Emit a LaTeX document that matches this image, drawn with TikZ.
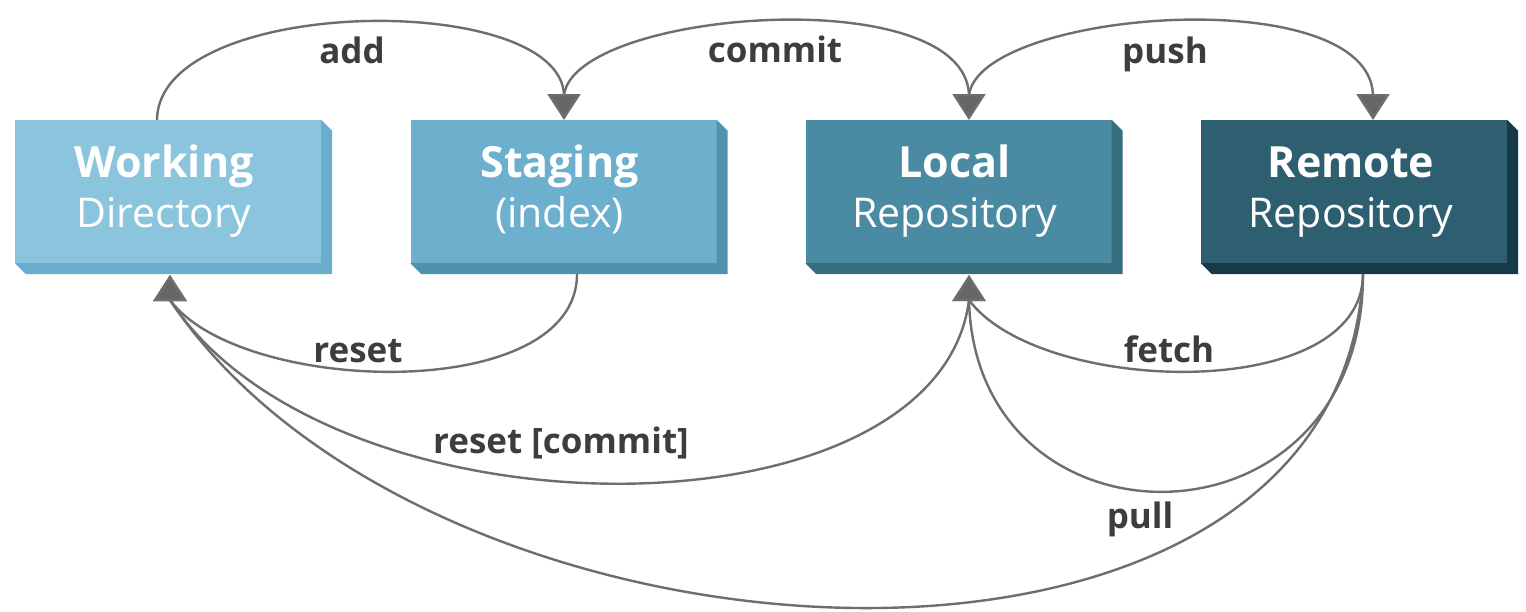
\documentclass[tikz,border=0pt]{standalone}
\usepackage{fontspec}
\setmainfont{Open Sans}
\usetikzlibrary{arrows.meta}
\definecolor{wdF}{HTML}{8BC5DD}
\definecolor{wdS}{HTML}{6AAECC}
\definecolor{sgF}{HTML}{6CB0CE}
\definecolor{sgS}{HTML}{4F92B0}
\definecolor{lrF}{HTML}{4A8BA3}
\definecolor{lrS}{HTML}{376E82}
\definecolor{rrF}{HTML}{2E5F71}
\definecolor{rrS}{HTML}{163A48}
\definecolor{lineC}{HTML}{6E6E6E}
\definecolor{tipC}{HTML}{666666}
\definecolor{labC}{HTML}{3D3D3D}
\tikzset{
  frontbox/.style={rectangle, draw=none, inner sep=0pt, minimum width=306pt, minimum height=143pt},
  boxtitle/.style={anchor=base, text=white, inner sep=0pt, font=\fontsize{43}{50}\selectfont\bfseries},
  boxsub/.style={anchor=base, text=white, inner sep=0pt, font=\fontsize{41}{50}\selectfont},
  cmdlabel/.style={anchor=base, text=labC, inner sep=0pt, font=\fontsize{35}{40}\selectfont\bfseries},
  conn/.style={draw=lineC, line width=2.4pt},
  tipped/.style={conn, -{Triangle[width=33pt,length=26pt,fill=tipC]}}
}
\newcommand\gitside[2]{%
  \fill[#2] (#1.north east) -- ++(11,11) -- ([shift={(11,11)}]#1.south east)
    -- ([shift={(11,11)}]#1.south west) -- (#1.south west) -- (#1.south east) -- cycle;}
\begin{document}
\begin{tikzpicture}[x=1pt,y=-1pt]
\useasboundingbox[fill=white] (0,0) rectangle (1526,611);

% boxes
\node[frontbox, fill=wdF] (wd) at (168,191.5) {};
\gitside{wd}{wdS}
\node[frontbox, fill=sgF] (sg) at (563.5,191.5) {};
\gitside{sg}{sgS}
\node[frontbox, fill=lrF] (lr) at (958.5,191.5) {};
\gitside{lr}{lrS}
\node[frontbox, fill=rrF] (rr) at (1354,191.5) {};
\gitside{rr}{rrS}

\node[boxtitle] (wdA) at (164,177) {Working};
\node[boxsub]   (wdB) at (164,227) {Directory};
\node[boxtitle] (sgA) at (559.5,177) {Staging};
\node[boxsub]   (sgB) at (559.5,227) {(index)};
\node[boxtitle] (lrA) at (954.5,177) {Local};
\node[boxsub]   (lrB) at (954.5,227) {Repository};
\node[boxtitle] (rrA) at (1351,177) {Remote};
\node[boxsub]   (rrB) at (1351,227) {Repository};

% ports
\coordinate (wdTop) at (157,120);
\coordinate (sgTopB) at (564,95);
\coordinate (sgTop) at (564,120);
\coordinate (lrTopB) at (969,95);
\coordinate (lrTop) at (969,120);
\coordinate (rrTopB) at (1373,95);
\coordinate (rrTop) at (1373,120);
\coordinate (sgBot) at (577,274);
\coordinate (rrBot) at (1363,274);
\coordinate (wdBotB) at (170,300);
\coordinate (wdBot) at (170,275);
\coordinate (lrBotB) at (969,300);
\coordinate (lrBot) at (969,275);

% top connectors
\draw[tipped] (wdTop) .. controls +(1,-125) and +(-4,-105) .. (sgTopB) -- (sgTop);
\draw[tipped] (sgTopB) .. controls +(11,-85) and +(-4,-115) .. (lrTopB) -- (lrTop);
\draw[tipped] (lrTopB) .. controls +(11,-85) and +(-4,-115) .. (rrTopB) -- (rrTop);

% bottom connectors
\draw[tipped] (sgBot) .. controls +(0,131) and +(70,95) .. (wdBotB) -- (wdBot);
\draw[tipped] (lrBotB) .. controls +(-31,245) and +(160,245) .. (wdBotB) -- (wdBot);
\draw[tipped] (rrBot) .. controls +(0,131) and +(70,95) .. (lrBotB) -- (lrBot);
\draw[tipped] (rrBot) .. controls +(0,286) and +(6,260) .. (lrBotB) -- (lrBot);
\draw[tipped] (rrBot) .. controls +(-23,466) and +(260,390) .. (wdBotB) -- (wdBot);

% labels
\node[cmdlabel] (lAdd) at (352,63) {add};
\node[cmdlabel] (lCommit) at (775,62) {commit};
\node[cmdlabel] (lPush) at (1165,63) {push};
\node[cmdlabel] (lReset) at (358,362) {reset};
\node[cmdlabel] (lFetch) at (1169,362) {fetch};
\node[cmdlabel] (lResetC) at (561,453) {reset [commit]};
\node[cmdlabel] (lPull) at (1140,528) {pull};
\end{tikzpicture}
\end{document}
